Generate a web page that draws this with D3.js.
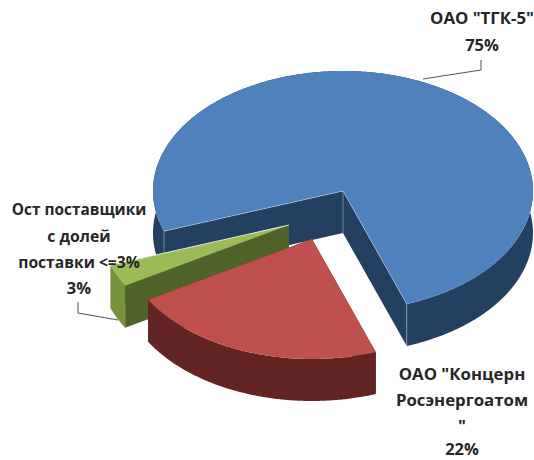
<!DOCTYPE html>
<html>
<head>
<meta charset="utf-8">
<script src="https://cdn.jsdelivr.net/npm/d3@7"></script>
<style>
  html, body { margin: 0; background: #fff; }
  text { font-family: "Open Sans", sans-serif; font-weight: 700; fill: #262626; }
</style>
</head>
<body>
<div id="chart"></div>
<script>
// data
var categories = ['ОАО "ТГК-5"', 'ОАО "Концерн Росэнергоатом"', "Ост поставщики с долей поставки <=3%"];
var values = [75, 22, 3];
var percentLabels = ["75%", "22%", "3%"];

var labelLines = [
  ['ОАО "ТГК-5"', "75%"],
  ['ОАО "Концерн', "Росэнергоатом", '"', "22%"],
  ["Ост поставщики", "с долей", "поставки <=3%", "3%"]
];

var width = 534, height = 460;
var cx = 343, cy = 191, rx = 190, ry = 120, depth = 42;
var firstSliceAngle = 250.4;

var topColors = ["#4f81bd", "#c0504d", "#9bbb59"];
var outerColors = ["#234061", "#632523", "#76923c"];
var cutColors = ["#234061", "#632523", "#4f6228"];
var edgeColors = ["rgba(255,255,255,0.45)", "none", "#fff"];

// how far each slice is pulled out of the pie, in px on screen
var explode = [[0, 0], [-31, 48], [-54, 34]];

var labelPos = [
  {x: 482, y: [24, 51], size: [16.8, 16.5]},
  {x: 462, y: [380, 406, 432, 455], size: [16.8, 16.8, 16.8, 16.5]},
  {x: 79, y: [215, 242, 268, 294], size: [15.4, 15.8, 15.6, 16.5]}
];
var leaders = [
  [[481, 60], [481, 70], [423, 79]],
  [],
  [[78, 302], [78, 313], [118, 320]]
];

var svg = d3.select("#chart").append("svg")
    .attr("width", width)
    .attr("height", height)
    .style("display", "block");

// the pie lies tilted, so a unit circle is squeezed into an ellipse
var x = d3.scaleLinear().domain([-1, 1]).range([cx - rx, cx + rx]);
var y = d3.scaleLinear().domain([-1, 1]).range([cy - ry, cy + ry]);

var rad = Math.PI / 180;
var pie = d3.pie().sort(null).value(d => d)
    .startAngle(firstSliceAngle * rad)
    .endAngle((firstSliceAngle + 360) * rad);

var line = d3.line().x(d => d[0]).y(d => d[1]);

var arcPoints = (a0, a1, drop) => {
  var steps = Math.ceil((a1 - a0) / (rad / 2));
  return d3.range(steps + 1).map(i => {
    var a = a0 + (a1 - a0) * i / steps;
    return [x(Math.sin(a)), y(-Math.cos(a)) + drop];
  });
};

var apex = drop => [x(0), y(0) + drop];

var arcs = pie(values);
var drawOrder = [0, 2, 1];

drawOrder.forEach(i => {
  var d = arcs[i];
  var g = svg.append("g")
      .attr("transform", `translate(${explode[i][0]},${explode[i][1]})`);

  var top = arcPoints(d.startAngle, d.endAngle, 0);
  var bottom = arcPoints(d.startAngle, d.endAngle, depth);
  var first = top[0], last = top[top.length - 1];

  // cut walls running back to the centre
  [first, last].forEach(p => {
    g.append("path")
        .attr("fill", cutColors[i])
        .attr("d", line([apex(0), p, [p[0], p[1] + depth], apex(depth)]) + "Z");
  });

  // rim
  g.append("path")
      .attr("fill", outerColors[i])
      .attr("d", line(top.concat(bottom.slice().reverse())) + "Z");

  // top face
  g.append("path")
      .attr("fill", topColors[i])
      .attr("d", line([apex(0)].concat(top)) + "Z");

  // thin light edges along the cuts
  if (edgeColors[i] != "none") {
    var corners = i == 0 ? [first, apex(0), last] : [apex(0), last];
    var verticals = i == 0 ? corners : [last];
    g.append("path")
        .attr("fill", "none")
        .attr("stroke", edgeColors[i])
        .attr("stroke-width", 0.8)
        .attr("d", line(corners));
    verticals.forEach(p => {
      g.append("path")
          .attr("fill", "none")
          .attr("stroke", edgeColors[i])
          .attr("stroke-width", 0.8)
          .attr("d", line([p, [p[0], p[1] + depth]]));
    });
  }
});

// leader lines
leaders.forEach(pts => {
  if (!pts.length) return;
  svg.append("path")
      .attr("fill", "none")
      .attr("stroke", "#404040")
      .attr("stroke-width", 0.9)
      .attr("d", line(pts));
});

// data labels
labelLines.forEach((lines, i) => {
  lines.forEach((txt, j) => {
    svg.append("text")
        .attr("x", labelPos[i].x)
        .attr("y", labelPos[i].y[j])
        .attr("text-anchor", "middle")
        .attr("font-size", labelPos[i].size[j])
        .text(txt);
  });
});
</script>
</body>
</html>
